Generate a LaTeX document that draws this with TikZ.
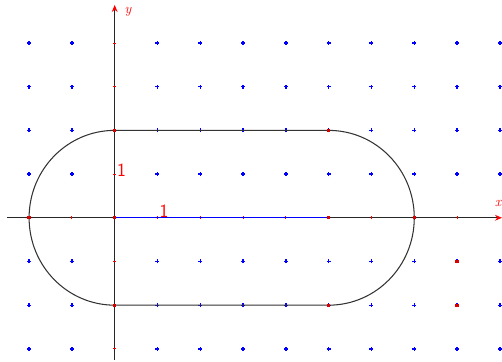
\documentclass[tikz,border=0pt]{standalone}
\usepackage{xcolor}
\usepackage{tikz}
\usetikzlibrary{arrows.meta,positioning,calc}

\begin{document}
\begin{tikzpicture}[x=1.284cm, y=1.311cm, >=Stealth,
    % ---- styles ----
    AX/.style={draw=black!85, line width=0.9pt,
               -{Stealth[length=6pt, width=5pt, color=red]}},
    C/.style={draw=black!80, line width=0.9pt},
    P/.style={rectangle, fill=red!85!black, inner sep=0pt,
              minimum size=0.1cm},
    L/.style={text=red, font=\fontsize{16}{16}\selectfont\sffamily,
              inner sep=0pt},
    V/.style={text=red, font=\large\itshape, inner sep=0pt},
    DOT/.style={draw=blue, line width=1.1pt},
    TK/.style={draw=red, line width=0.8pt},
]
\useasboundingbox (-2.68,-3.30) rectangle (9.05,4.984);

% ===== Grid of dots =====
\foreach \i in {-2,...,9}
  \foreach \j in {-3,...,4} {
    \ifnum\i=0\else\ifnum\j=0\else
      \draw[DOT] (\i,\j) +(-0.06cm,0) -- +(0.06cm,0)
                 (\i,\j) +(0,-0.06cm) -- +(0,0.06cm);
    \fi\fi
  }

% ===== Axes =====
\coordinate (xl) at (-2.52,0);
\coordinate (xr) at (9.05,0);
\coordinate (yb) at (0,-3.25);
\coordinate (yt) at (0,4.87);
\draw[AX] (xl) -- (xr);
\draw[AX] (yb) -- (yt);
\node[V] (xlab) at (8.96,0.32) {x};
\node[V] (ylab) at (0.31,4.72) {y};

% ticks on the axes
\foreach \i in {-2,-1,1,2,...,8}
  \draw[TK] (\i,0) +(0,-0.05cm) -- +(0,0.05cm);
\foreach \j in {-3,-2,-1,1,2,3,4}
  \draw[TK] (0,\j) +(-0.05cm,0) -- +(0.05cm,0);

% ===== Stadium =====
\coordinate (tl) at (0,2);
\coordinate (tr) at (5,2);
\coordinate (bl) at (0,-2);
\coordinate (br) at (5,-2);
\draw[C] (tl) -- (tr) arc[start angle=90, end angle=-90, radius=2]
         -- (bl) arc[start angle=270, end angle=90, radius=2];

% segment on the x-axis
\coordinate (O) at (0,0);
\coordinate (E) at (5,0);
\draw[blue, line width=1pt] (O) -- (E);

% ===== Points =====
\node[P] (pO)  at (O)  {};
\node[P] (pE)  at (E)  {};
\node[P] (ptl) at (tl) {};
\node[P] (ptr) at (tr) {};
\node[P] (pbl) at (bl) {};
\node[P] (pbr) at (br) {};
\node[P] (pl)  at (-2,0) {};
\node[P] (pr)  at (7,0)  {};
\node[P] (q1)  at (8,-1) {};
\node[P] (q2)  at (8,-2) {};

% ===== Unit labels =====
\node[L] (one y) at (0.16,1.09) {1};
\node[L] (one x) at (1.15,0.14) {1};

\end{tikzpicture}
\end{document}
